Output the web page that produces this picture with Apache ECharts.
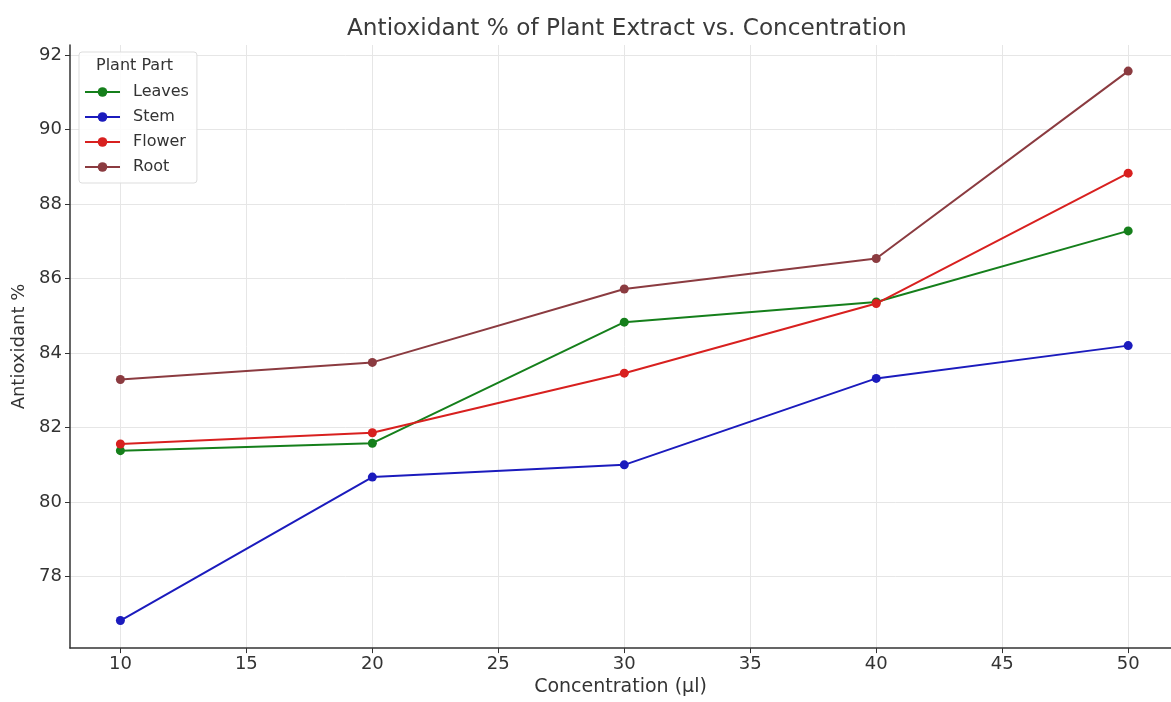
<!DOCTYPE html>
<html>
<head>
<meta charset="utf-8">
<script src="https://cdn.jsdelivr.net/npm/echarts@6/dist/echarts.min.js"></script>
<style>html,body{margin:0;padding:0;background:#fff}#c{width:1171px;height:702px}</style>
</head>
<body>
<div id="c"></div>
<script>
const concentrations = [10, 20, 30, 40, 50];
const leaves = [81.38, 81.58, 84.83, 85.37, 87.28];
const stem = [76.82, 80.67, 81.0, 83.32, 84.2];
const flower = [81.56, 81.86, 83.46, 85.33, 88.83];
const root = [83.29, 83.75, 85.72, 86.54, 91.57];
const seriesNames = ['Leaves', 'Stem', 'Flower', 'Root'];
const xTicks = [10, 15, 20, 25, 30, 35, 40, 45, 50];
const yTicks = [78, 80, 82, 84, 86, 88, 90, 92];

const colors = ['#157f1b', '#1b1bbd', '#d8201f', '#8b3b40'];
const allData = [leaves, stem, flower, root];
const font = 'DejaVu Sans';

const chart = echarts.init(document.getElementById('c'));
chart.setOption({
  animation: false,
  backgroundColor: '#fff',
  title: {
    text: 'Antioxidant % of Plant Extract vs. Concentration',
    left: 342, top: 12,
    textStyle: { fontFamily: font, fontSize: 23.2, fontWeight: 'normal', color: '#3a3a3a' }
  },
  grid: { left: 70, right: 0, top: 45, bottom: 50, containLabel: false },
  legend: {
    data: seriesNames,
    orient: 'vertical',
    left: 79, top: 52,
    padding: [32, 8, 8, 5],
    itemWidth: 35, itemHeight: 12, itemGap: 9,
    borderColor: '#dddddd', borderWidth: 1, borderRadius: 3,
    backgroundColor: 'rgba(255,255,255,0.85)',
    textStyle: { fontFamily: font, fontSize: 16, color: '#333', padding: [0, 0, 0, 8] }
  },
  graphic: [{
    type: 'text', left: 96, top: 58, z: 100,
    style: { text: 'Plant Part', fontFamily: font, fontSize: 16, fill: '#333' }
  }],
  xAxis: {
    type: 'value', min: 8, max: 51.7,
    name: 'Concentration (µl)', nameLocation: 'middle', nameGap: 29,
    nameTextStyle: { fontFamily: font, fontSize: 19, color: '#333' },
    axisLine: { show: true, lineStyle: { color: '#333', width: 1.5 } },
    axisTick: { show: true, customValues: xTicks, length: 5, lineStyle: { color: '#333' } },
    axisLabel: { customValues: xTicks, fontFamily: font, fontSize: 18, color: '#333', margin: 7 },
    splitLine: { show: true, customValues: xTicks, lineStyle: { color: '#e6e6e6', width: 1 } }
  },
  yAxis: {
    type: 'value', min: 76.08, max: 92.27,
    name: 'Antioxidant %', nameLocation: 'middle', nameGap: 39,
    nameTextStyle: { fontFamily: font, fontSize: 18, color: '#333' },
    axisLine: { show: true, lineStyle: { color: '#333', width: 1.5 } },
    axisTick: { show: true, customValues: yTicks, length: 5, lineStyle: { color: '#333' } },
    axisLabel: { customValues: yTicks, fontFamily: font, fontSize: 18, color: '#333', margin: 8 },
    splitLine: { show: true, customValues: yTicks, lineStyle: { color: '#e6e6e6', width: 1 } }
  },
  series: seriesNames.map((n, i) => ({
    name: n, type: 'line',
    data: concentrations.map((c, j) => [c, allData[i][j]]),
    symbol: 'circle', symbolSize: 9,
    lineStyle: { color: colors[i], width: 2 },
    itemStyle: { color: colors[i] },
    z: 2 + i
  }))
});
</script>
</body>
</html>
